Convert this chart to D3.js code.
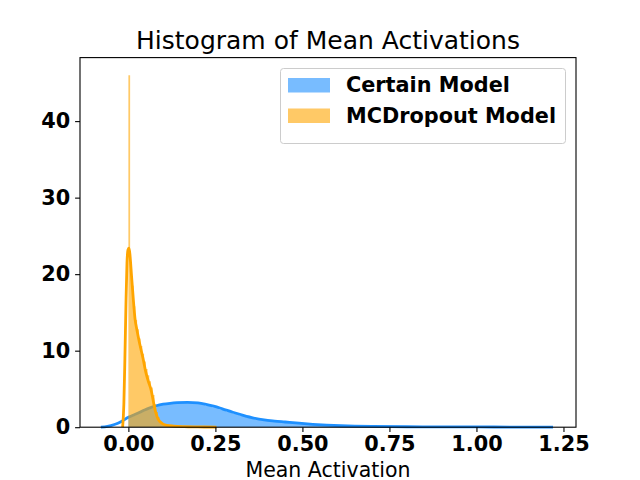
<!DOCTYPE html>
<html>
<head>
<meta charset="utf-8">
<script src="https://cdn.jsdelivr.net/npm/d3@7"></script>
<style>
    body { margin: 0; background: #fff; }
    text { font-family: "DejaVu Sans", sans-serif; }
</style>
</head>
<body>
<script>
// histogram densities (bin width + left edge)
const certainBinStart = 0;
const certainBinWidth = 0.02;
const certainHist = [1.5, 1.85, 2.25, 2.6, 2.9, 3.05, 3.15, 3.22, 3.25, 3.2,
    3.05, 2.85, 2.6, 2.35, 2.05, 1.75, 1.5, 1.25, 1.05, 0.9,
    0.8, 0.72, 0.65, 0.57, 0.5, 0.44, 0.38, 0.32, 0.27, 0.22,
    0.19, 0.16, 0.14, 0.12, 0.11, 0.1, 0.09, 0.08, 0.075, 0.07,
    0.065, 0.06, 0.055, 0.05, 0.05, 0.045, 0.04, 0.04, 0.035, 0.035,
    0.03, 0.03, 0.03, 0.025, 0.025, 0.02, 0.02, 0.02, 0.015, 0.015, 0.01];

const mcBinStart = 0;
const mcBinWidth = 0.005;
const mcHist = [46, 21.5, 18.5, 15.8, 14, 12.8, 11.6, 10.6, 9.6, 8.6,
    7.6, 6.8, 6.0, 5.2, 4.2, 3.0, 2.0, 1.3, 0.8, 0.5,
    0.35, 0.28, 0.22, 0.18, 0.15, 0.12, 0.1, 0.09, 0.08, 0.07,
    0.06, 0.05, 0.05, 0.04, 0.04, 0.03, 0.03, 0.03, 0.02, 0.02,
    0.02, 0.02, 0.01, 0.01, 0.01, 0.01, 0.01, 0.01];

// kde curves
const certainKdeX = [-0.079, -0.06, -0.04, -0.02, 0, 0.02, 0.04, 0.06, 0.08, 0.1,
    0.12, 0.14, 0.17, 0.2, 0.22, 0.245, 0.27, 0.3, 0.33, 0.36,
    0.39, 0.42, 0.45, 0.49, 0.53, 0.57, 0.61, 0.65, 0.7, 0.8,
    0.9, 1.0, 1.1, 1.22];
const certainKdeY = [0, 0.1, 0.35, 0.75, 1.3, 1.7, 2.1, 2.5, 2.8, 3.0,
    3.12, 3.2, 3.25, 3.17, 3.02, 2.75, 2.4, 1.95, 1.55, 1.2,
    0.95, 0.8, 0.68, 0.52, 0.38, 0.27, 0.19, 0.14, 0.1, 0.06,
    0.04, 0.03, 0.02, 0.005];

const mcKdeX = [-0.0165, -0.013, -0.01, -0.007, -0.004, -0.001, 0.002, 0.005, 0.009, 0.014,
    0.019, 0.025, 0.033, 0.042, 0.05, 0.058, 0.065, 0.07, 0.075, 0.08,
    0.085, 0.09, 0.1, 0.11, 0.13, 0.16, 0.2, 0.253];
const mcKdeY = [0, 3, 9, 16, 21.5, 23.2, 23.4, 22.3, 19.8, 16.8,
    14.2, 12.6, 10.8, 9.0, 7.2, 5.9, 4.9, 3.8, 2.6, 1.7,
    1.1, 0.75, 0.4, 0.25, 0.15, 0.08, 0.04, 0];

const xTicks = [0, 0.25, 0.5, 0.75, 1.0, 1.25];
const yTicks = [0, 10, 20, 30, 40];
const seriesNames = ["Certain Model", "MCDropout Model"];
const lineColors = ["#1e90ff", "#ffa500"];

const width = 640, height = 480;
const margin = { left: 80, right: 576, top: 57.6, bottom: 427.2 };

const svg = d3.select("body")
    .append("svg")
    .attr("width", width)
    .attr("height", height);

const x = d3.scaleLinear().domain([-0.139, 1.286]).range([margin.left, margin.right]);
const y = d3.scaleLinear().domain([0, 48.3]).range([margin.bottom, margin.top]);

function histPoints(start, w, vals) {
    let pts = vals.map((v, i) => [start + i * w, v]);
    pts.push([start + vals.length * w, vals[vals.length - 1]]);
    return pts;
}

const area = d3.area()
    .x(d => x(d[0]))
    .y0(y(0))
    .y1(d => y(d[1]))
    .curve(d3.curveStepAfter);

const line = d3.line()
    .x(d => x(d[0]))
    .y(d => y(d[1]))
    .curve(d3.curveMonotoneX);

const plot = svg.append("g");

const series = [
    { hist: histPoints(certainBinStart, certainBinWidth, certainHist), kde: d3.zip(certainKdeX, certainKdeY) },
    { hist: histPoints(mcBinStart, mcBinWidth, mcHist), kde: d3.zip(mcKdeX, mcKdeY) }
];

series.forEach((s, i) => {
    plot.append("path")
        .attr("d", area(s.hist))
        .attr("fill", lineColors[i])
        .attr("fill-opacity", 0.6);
    plot.append("path")
        .attr("d", line(s.kde))
        .attr("fill", "none")
        .attr("stroke", lineColors[i])
        .attr("stroke-width", 2.8)
        .attr("stroke-linejoin", "round");
});

// axes
const xAxis = svg.append("g")
    .attr("transform", `translate(0,${margin.bottom})`)
    .call(d3.axisBottom(x).tickValues(xTicks).tickFormat(d3.format(".2f")).tickSize(4.9).tickPadding(4.5));
const yAxis = svg.append("g")
    .attr("transform", `translate(${margin.left},0)`)
    .call(d3.axisLeft(y).tickValues(yTicks).tickSize(4.9).tickPadding(5));

[xAxis, yAxis].forEach(a => {
    a.select(".domain").remove();
    a.selectAll(".tick line").attr("stroke", "#000").attr("stroke-width", 1.1);
    a.selectAll(".tick text")
        .attr("fill", "#000")
        .style("font-family", "DejaVu Sans")
        .style("font-size", "20.8px")
        .style("font-weight", "bold");
});

svg.append("rect")
    .attr("x", margin.left)
    .attr("y", margin.top)
    .attr("width", margin.right - margin.left)
    .attr("height", margin.bottom - margin.top)
    .attr("fill", "none")
    .attr("stroke", "#000")
    .attr("stroke-width", 1.1);

svg.append("text")
    .attr("x", (margin.left + margin.right) / 2)
    .attr("y", 49)
    .attr("text-anchor", "middle")
    .style("font-size", "25px")
    .text("Histogram of Mean Activations");

svg.append("text")
    .attr("x", (margin.left + margin.right) / 2)
    .attr("y", 476.5)
    .attr("text-anchor", "middle")
    .style("font-size", "20.5px")
    .text("Mean Activation");

// legend
const legend = svg.append("g");
legend.append("rect")
    .attr("x", 280.5)
    .attr("y", 68.5)
    .attr("width", 285)
    .attr("height", 75)
    .attr("rx", 3)
    .attr("fill", "#fff")
    .attr("fill-opacity", 0.8)
    .attr("stroke", "#cccccc")
    .attr("stroke-width", 1);

seriesNames.forEach((name, i) => {
    legend.append("rect")
        .attr("x", 288)
        .attr("y", 78 + i * 30.5)
        .attr("width", 42)
        .attr("height", 14.5)
        .attr("fill", lineColors[i])
        .attr("fill-opacity", 0.6);
    legend.append("text")
        .attr("x", 346)
        .attr("y", 92 + i * 30.5)
        .style("font-size", "20.8px")
        .style("font-weight", "bold")
        .text(name);
});
</script>
</body>
</html>
